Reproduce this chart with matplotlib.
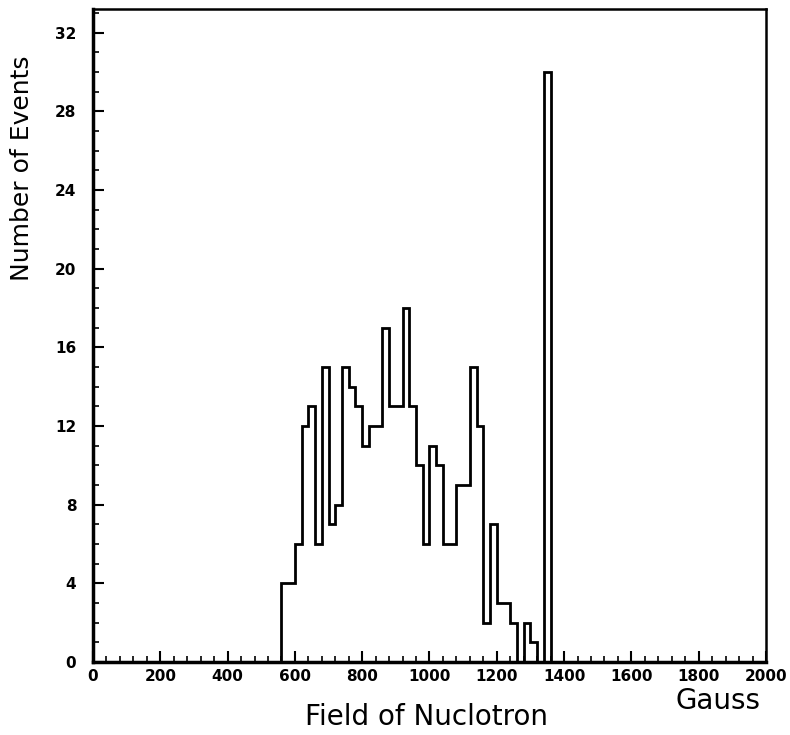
import matplotlib
matplotlib.use("Agg")
import matplotlib.pyplot as plt
import numpy as np
from matplotlib.ticker import MultipleLocator

bin_start = 560
bin_width = 20
counts = [4, 4, 6, 12, 13, 6, 15, 7, 8, 15, 14, 13, 11, 12, 12, 17, 13, 13, 18, 13,
          10, 6, 11, 10, 6, 6, 9, 9, 15, 12, 2, 7, 3, 3, 2, 0, 2, 1, 0, 30]
edges = bin_start + bin_width * np.arange(len(counts) + 1)

x_ticks = [0, 200, 400, 600, 800, 1000, 1200, 1400, 1600, 1800, 2000]
y_ticks = [0, 4, 8, 12, 16, 20, 24, 28, 32]

plt.rcParams['font.family'] = ['DejaVu Sans']

fig = plt.figure(figsize=(7.9, 7.35), dpi=100)
ax = fig.add_axes([0.1177, 0.0993, 0.8519, 0.8885])

ax.stairs(counts, edges, color='black', linewidth=2.0)

ax.set_xlim(0, 2000)
ax.set_ylim(0, 33.2)
ax.set_xticks(x_ticks)
ax.set_yticks(y_ticks)
ax.xaxis.set_minor_locator(MultipleLocator(40))
ax.yaxis.set_minor_locator(MultipleLocator(1))
ax.tick_params(which='major', direction='in', length=8, width=1.5, labelsize=11)
ax.tick_params(which='minor', direction='in', length=4, width=1.2)
ax.tick_params(axis='x', which='both', top=False, pad=5)
ax.tick_params(axis='y', which='both', right=False, pad=12)
for lab in ax.get_xticklabels() + ax.get_yticklabels():
    lab.set_fontweight('bold')
for s in ax.spines.values():
    s.set_linewidth(1.8)
ax.spines['bottom'].set_linewidth(2.5)
ax.spines['left'].set_linewidth(2.5)

fig.text(0.028, 0.771, 'Number of Events', fontsize=18, rotation=90,
         ha='center', va='center')
fig.text(0.54, 0.0245, 'Field of Nuclotron', fontsize=20, ha='center', va='center')
fig.text(0.909, 0.046, 'Gauss', fontsize=20, ha='center', va='center')

fig.savefig('out.png', dpi=100)
